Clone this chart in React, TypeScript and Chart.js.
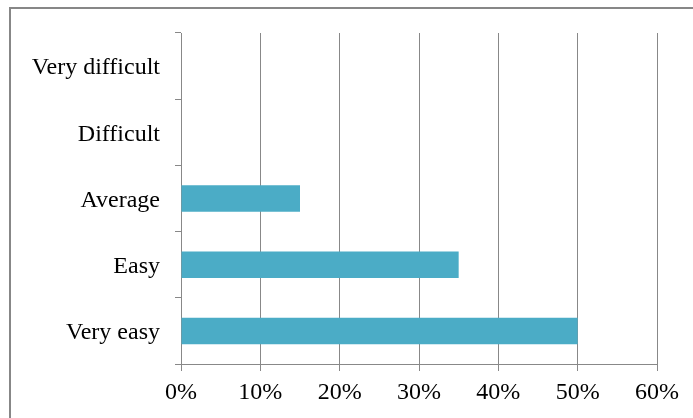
import React, { useEffect, useRef } from "react";
import { Chart, registerables } from "chart.js";

Chart.register(...registerables);

const categories = ["Very difficult", "Difficult", "Average", "Easy", "Very easy"];
const values = [0, 0, 15, 35, 50];
const xTicks = [0, 10, 20, 30, 40, 50, 60];

const borderPlugin = {
  id: "outerBorder",
  beforeDraw(chart: any) {
    const ctx = chart.ctx;
    ctx.save();
    ctx.strokeStyle = "#878787";
    ctx.lineWidth = 2;
    ctx.beginPath();
    ctx.moveTo(10, 430);
    ctx.lineTo(10, 8);
    ctx.lineTo(700, 8);
    ctx.stroke();
    ctx.restore();
  },
};

export default function App() {
  const ref = useRef<HTMLCanvasElement | null>(null);
  useEffect(() => {
    if (!ref.current) return;
    const chart = new Chart(ref.current, {
      type: "bar",
      data: {
        labels: categories,
        datasets: [
          {
            data: values,
            backgroundColor: "#4BACC6",
            barPercentage: 0.4,
            categoryPercentage: 1,
          },
        ],
      },
      plugins: [borderPlugin],
      options: {
        indexAxis: "y",
        animation: false,
        responsive: false,
        layout: { padding: { top: 33, right: 36, left: 0, bottom: 0 } },
        plugins: { legend: { display: false }, tooltip: { enabled: false } },
        scales: {
          x: {
            min: 0,
            max: 60,
            afterBuildTicks: (s: any) => {
              s.ticks = xTicks.map((v) => ({ value: v }));
            },
            afterFit: (s: any) => {
              s.height = 54;
            },
            ticks: {
              callback: (v: any) => v + "%",
              color: "#000",
              font: { family: "Liberation Serif", size: 24 },
              padding: 7,
              maxRotation: 0,
            },
            grid: { color: "#888", lineWidth: 1, tickLength: 7 },
            border: { color: "#888", width: 1 },
          },
          y: {
            afterFit: (s: any) => {
              s.width = 181;
            },
            ticks: {
              color: "#000",
              font: { family: "Liberation Serif", size: 24 },
              padding: 15,
              labelOffset: 2,
            },
            grid: { drawOnChartArea: false, color: "#888", tickLength: 6, offset: true },
            border: { color: "#888", width: 1 },
          },
        },
      },
    });
    return () => chart.destroy();
  }, []);
  return (
    <div style={{ position: "fixed", left: 0, top: 0, width: 693, height: 418, background: "#fff" }}>
      <canvas ref={ref} width={693} height={418} style={{ display: "block" }} />
    </div>
  );
}
